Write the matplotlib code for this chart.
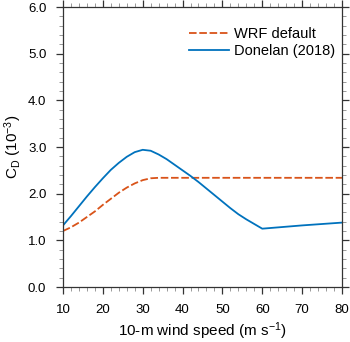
import matplotlib
matplotlib.use("Agg")
import matplotlib.pyplot as plt
from matplotlib.ticker import MultipleLocator

plt.rcParams['font.family'] = ['Liberation Sans', 'DejaVu Sans']
plt.rcParams['mathtext.fontset'] = 'custom'
plt.rcParams['mathtext.rm'] = 'Liberation Sans'
plt.rcParams['mathtext.it'] = 'Liberation Sans:italic'

# Data
wrf_wind = [10, 12, 14, 16, 18, 20, 22, 24, 26, 28, 30, 32, 34, 80]
wrf_cd = [1.20, 1.28, 1.38, 1.50, 1.62, 1.76, 1.89, 2.02, 2.13, 2.22, 2.29, 2.33, 2.34, 2.34]

don_wind = [10, 12, 14, 16, 18, 20, 22, 24, 26, 28, 30, 32, 34, 36, 38, 40,
            42, 44, 46, 48, 50, 52, 54, 56, 58, 60, 70, 80]
don_cd = [1.32, 1.52, 1.73, 1.94, 2.14, 2.33, 2.51, 2.66, 2.79, 2.89, 2.94, 2.92,
          2.84, 2.74, 2.62, 2.50, 2.38, 2.25, 2.11, 1.97, 1.83, 1.69, 1.56, 1.45,
          1.35, 1.25, 1.32, 1.38]

series_labels = ["WRF default", "Donelan (2018)"]
xticks = [10, 20, 30, 40, 50, 60, 70, 80]
yticks = [0.0, 1.0, 2.0, 3.0, 4.0, 5.0, 6.0]

orange = (0.85, 0.325, 0.098)
blue = (0.0, 0.447, 0.741)

fig = plt.figure(figsize=(3.5, 3.42), dpi=100)
ax = fig.add_axes([0.18, 0.1608, 0.797, 0.8187])

ax.plot(wrf_wind, wrf_cd, color=orange, lw=1.3, dashes=(4.2, 1.5), label=series_labels[0])
ax.plot(don_wind, don_cd, color=blue, lw=1.3, label=series_labels[1])

ax.set_xlim(10, 80)
ax.set_ylim(0, 6)
ax.set_xticks(xticks)
ax.set_xticklabels([str(v) for v in xticks])
ax.set_yticks(yticks)
ax.set_yticklabels([f"{v:.1f}" for v in yticks])
ax.xaxis.set_minor_locator(MultipleLocator(2))
ax.yaxis.set_minor_locator(MultipleLocator(0.2))

for s in ax.spines.values():
    s.set_linewidth(0.9)
    s.set_color('#333333')

ax.tick_params(which='major', direction='out', length=5, width=0.9, color='#333333',
               labelsize=9.5, top=True, right=True, pad=7)
ax.tick_params(which='minor', direction='out', length=2.8, width=0.7, color='#999999',
               top=True, right=True)

ax.set_xlabel("10-m wind speed (m s$^{-1}$)", fontsize=11, labelpad=3.5)
ax.set_ylabel("C$_{\\mathrm{D}}$ (10$^{-3}$)", fontsize=11, labelpad=3)

leg = ax.legend(loc='upper left', bbox_to_anchor=(0.452, 0.93), frameon=False,
                fontsize=10.5, handlelength=2.75, handletextpad=0.3,
                labelspacing=0.25, borderaxespad=0, borderpad=0)

fig.savefig("out.png", dpi=100)
